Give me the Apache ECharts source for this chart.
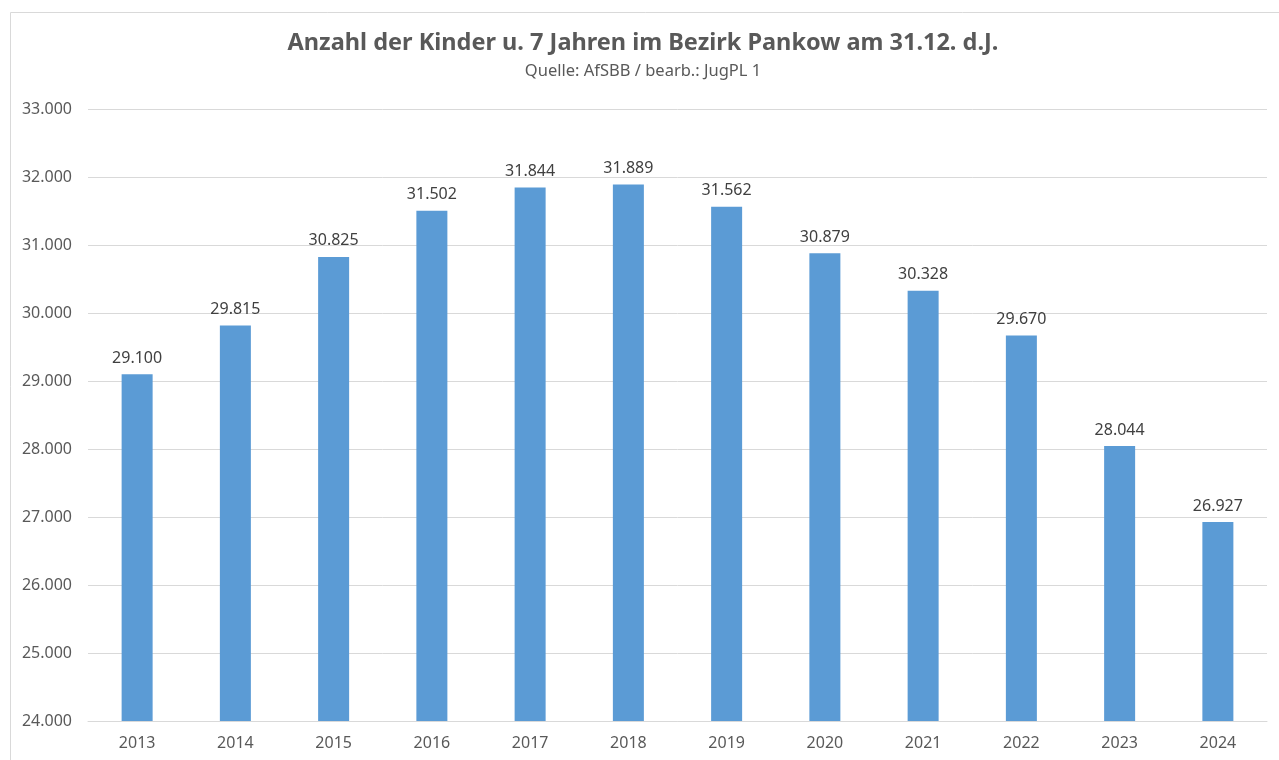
<!DOCTYPE html>
<html><head><meta charset="utf-8">
<script src="https://cdn.jsdelivr.net/npm/echarts@6/dist/echarts.min.js"></script>
<style>html,body{margin:0;padding:0;background:#fff}#c{width:1279px;height:760px}</style>
</head><body><div id="c"></div>
<script>
const years = ['2013','2014','2015','2016','2017','2018','2019','2020','2021','2022','2023','2024'];
const kinder = [29100,29815,30825,31502,31844,31889,31562,30879,30328,29670,28044,26927];
const yMin = 24000, yMax = 33000, yStep = 1000;
const titleText = 'Anzahl der Kinder u. 7 Jahren im Bezirk Pankow am 31.12. d.J.';
const subText = 'Quelle: AfSBB / bearb.: JugPL 1';

const fmt = v => String(v).replace(/\B(?=(\d{3})+(?!\d))/g, '.');
const chart = echarts.init(document.getElementById('c'));
const font = '"Noto Sans", sans-serif';
chart.setOption({
  animation: false,
  graphic: [{type:'rect', shape:{x:10.5,y:12.5,width:1300,height:800}, style:{fill:'none', stroke:'#d9d9d9', lineWidth:1}, silent:true}],
  title: [
    {text: titleText, left: 643, textAlign: 'center', top: 29, padding: 0,
     textStyle: {fontFamily: font, fontSize: 23.5, fontWeight: 'bold', color: '#595959', lineHeight: 28}},
    {text: subText, left: 643, textAlign: 'center', top: 61, padding: 0,
     textStyle: {fontFamily: font, fontSize: 16.5, fontWeight: 'normal', color: '#595959', lineHeight: 20}}
  ],
  grid: {left: 88, right: 12, top: 109, bottom: 39, containLabel: false},
  xAxis: {
    type: 'category', data: years,
    axisLine: {show: true, lineStyle: {color: '#d9d9d9'}},
    axisTick: {show: false},
    axisLabel: {fontFamily: font, fontSize: 16, color: '#595959', margin: 14}
  },
  yAxis: {
    type: 'value', min: yMin, max: yMax, interval: yStep,
    axisLine: {show: false}, axisTick: {show: false},
    splitLine: {lineStyle: {color: '#d9d9d9', width: 1}},
    axisLabel: {fontFamily: font, fontSize: 16, color: '#595959', margin: 16, formatter: v => fmt(v)}
  },
  series: [{
    type: 'bar', data: kinder, barWidth: 31,
    itemStyle: {color: '#5b9bd5'},
    label: {show: true, position: 'top', distance: 8, fontFamily: font, fontSize: 16, color: '#404040', formatter: p => fmt(p.value)}
  }]
});
</script></body></html>
